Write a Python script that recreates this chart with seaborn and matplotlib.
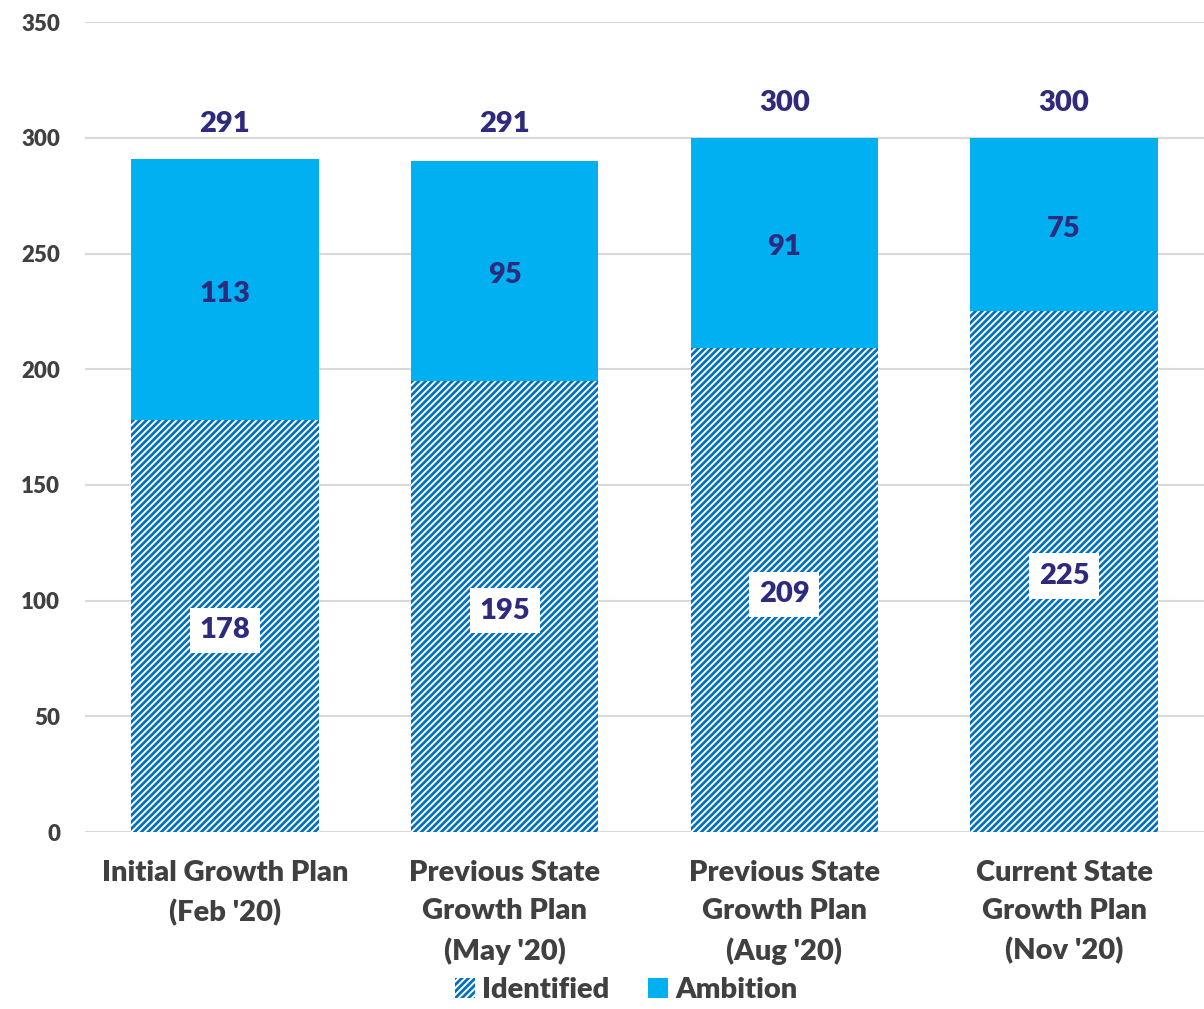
import matplotlib
matplotlib.use("Agg")
import matplotlib.pyplot as plt
import seaborn as sns
import numpy as np

categories = ["Initial Growth Plan\n(Feb '20)",
              "Previous State\nGrowth Plan\n(May '20)",
              "Previous State\nGrowth Plan\n(Aug '20)",
              "Current State\nGrowth Plan\n(Nov '20)"]
identified = [178, 195, 209, 225]
ambition = [113, 95, 91, 75]
totals = [291, 291, 300, 300]
y_ticks = [0, 50, 100, 150, 200, 250, 300, 350]

sns.set_theme(style="white")
plt.rcParams['font.family'] = ['Lato', 'DejaVu Sans']
plt.rcParams['hatch.linewidth'] = 2.0

BLUE_HATCH = "#0070C0"
AMBITION = "#00B0F0"
NAVY = "#2E2B7E"
GREY = "#404040"
WEIGHT = "heavy"

fig = plt.figure(figsize=(12.04, 10.09), dpi=100)
ax = fig.add_axes([0.0706, 0.1754, 0.9294, 0.8026])

sns.barplot(x=categories, y=identified, color="white", saturation=1,
            width=0.67, hatch="/////", edgecolor=BLUE_HATCH, linewidth=0,
            ax=ax, label="Identified", zorder=2)
sns.barplot(x=categories, y=ambition, bottom=identified, color=AMBITION,
            saturation=1, width=0.67, linewidth=0, ax=ax,
            label="Ambition", zorder=2)

ax.set_ylim(0, 350)
ax.set_xlim(-0.5, 3.5)
ax.set_yticks(y_ticks)
ax.yaxis.grid(True, color="#D9D9D9", linewidth=1.5, zorder=0)
ax.set_axisbelow(True)
for s in ax.spines.values():
    s.set_visible(False)
ax.tick_params(axis="both", length=0, labelcolor=GREY)
ax.tick_params(axis="y", labelsize=16, pad=18)
for lbl in ax.get_yticklabels():
    lbl.set_fontweight(WEIGHT)
ax.tick_params(axis="x", labelsize=21, pad=20)
for lbl in ax.get_xticklabels():
    lbl.set_fontweight(WEIGHT)
    lbl.set_linespacing(1.58)

# segment labels, nudged a few points down to sit at the optical centre
for i in range(len(categories)):
    ax.annotate(str(identified[i]), (i, identified[i] / 2), xytext=(0, -3),
                textcoords="offset points", ha="center", va="center",
                fontsize=21, fontweight=WEIGHT, color=NAVY, zorder=5,
                bbox=dict(facecolor="white", edgecolor="none", pad=7))
    ax.annotate(str(ambition[i]), (i, identified[i] + ambition[i] / 2),
                xytext=(0, -3), textcoords="offset points", ha="center",
                va="center", fontsize=21, fontweight=WEIGHT, color=NAVY,
                zorder=5)
    ax.annotate(str(totals[i]), (i, totals[i]), xytext=(0, 25),
                textcoords="offset points", ha="center", va="center",
                fontsize=21, fontweight=WEIGHT, color=NAVY)

leg = ax.legend(loc="lower center", bbox_to_anchor=(0.52, -0.006),
                bbox_transform=fig.transFigure, ncol=2, frameon=False,
                fontsize=21, handlelength=0.7, handleheight=0.7,
                handletextpad=0.25, columnspacing=1.3, borderaxespad=0.0)
for t in leg.get_texts():
    t.set_fontweight(WEIGHT)
    t.set_color(GREY)

fig.savefig("out.png", dpi=100)
